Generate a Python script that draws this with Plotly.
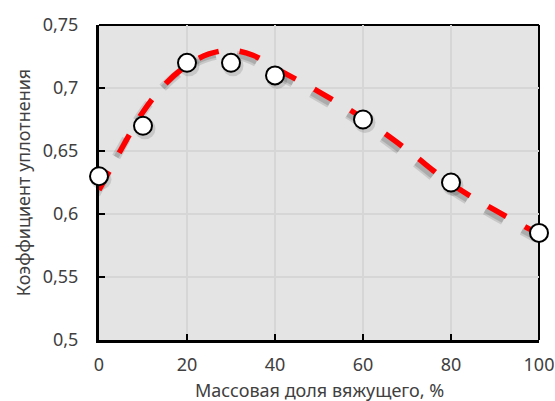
import plotly.graph_objects as go

# Measured points
x_pts = [0, 10, 20, 30, 40, 60, 80, 100]
y_pts = [0.63, 0.67, 0.72, 0.72, 0.71, 0.675, 0.625, 0.585]

# Trend curve
x_trend = [0, 5, 10, 15, 20, 25, 30, 35, 40, 50, 60, 70, 80, 90, 100]
y_trend = [0.619, 0.651, 0.681, 0.703, 0.718, 0.727, 0.730, 0.726, 0.716,
           0.697, 0.676, 0.651, 0.624, 0.603, 0.584]

# Axis ticks
x_ticks = [0, 20, 40, 60, 80, 100]
x_ticktext = ["0", "20", "40", "60", "80", "100"]
y_ticks = [0.5, 0.55, 0.6, 0.65, 0.7, 0.75]
y_ticktext = ["0,5", "0,55", "0,6", "0,65", "0,7", "0,75"]

x_title = "Массовая доля вяжущего, %"
y_title = "Коэффициент уплотнения"

FONT = "Noto Sans"
TXT = "#404040"
DASH = "21px,21px"

fig = go.Figure()

# invisible anchor trace on the base axes (keeps the base subplot alive)
fig.add_trace(go.Scatter(x=x_pts, y=y_pts, mode="markers",
                         marker=dict(size=1, opacity=0),
                         hoverinfo="skip", showlegend=False))

# shadow of trend line (on offset axes)
fig.add_trace(go.Scatter(x=x_trend, y=y_trend, mode="lines", xaxis="x2", yaxis="y2",
                         line=dict(color="rgba(0,0,0,0.12)", width=9, dash=DASH, shape="spline"),
                         hoverinfo="skip", showlegend=False))
fig.add_trace(go.Scatter(x=x_trend, y=y_trend, mode="lines", xaxis="x2", yaxis="y2",
                         line=dict(color="rgba(0,0,0,0.14)", width=5, dash=DASH, shape="spline"),
                         hoverinfo="skip", showlegend=False))
# shadow of markers
fig.add_trace(go.Scatter(x=x_pts, y=y_pts, mode="markers", xaxis="x3", yaxis="y3",
                         marker=dict(size=21, color="rgba(0,0,0,0.12)", line=dict(width=0)),
                         cliponaxis=False, hoverinfo="skip", showlegend=False))

# trend line (top overlay)
fig.add_trace(go.Scatter(x=x_trend, y=y_trend, mode="lines", xaxis="x4", yaxis="y4",
                         line=dict(color="#ff0000", width=5.5, dash=DASH, shape="spline"),
                         showlegend=False))
# points
fig.add_trace(go.Scatter(x=x_pts, y=y_pts, mode="markers", xaxis="x4", yaxis="y4",
                         marker=dict(size=18, color="white", line=dict(color="black", width=2)),
                         cliponaxis=False, showlegend=False))

xr = [0, 100]
yr = [0.5, 0.75]
px_per_x = 440 / 100.0
px_per_y = 315 / 0.25

def shift_x(dx_px):
    return [xr[0] - dx_px / px_per_x, xr[1] - dx_px / px_per_x]

def shift_y(dy_px):
    # positive dy_px moves data down on screen
    return [yr[0] + dy_px / px_per_y, yr[1] + dy_px / px_per_y]

fig.update_layout(
    width=555, height=401,
    margin=dict(l=99, r=16, t=25, b=61, autoexpand=False),
    paper_bgcolor="white",
    plot_bgcolor="#e4e4e4",
    separators=", ",
    font=dict(family=FONT, color=TXT, size=18),
    xaxis=dict(range=xr, tickvals=x_ticks, ticktext=x_ticktext, automargin=False,
               showgrid=True, gridcolor="#d6d6d6", gridwidth=2,
               zeroline=False, showline=True, linecolor="black", linewidth=3,
               ticks="inside", ticklen=6, tickwidth=2, tickcolor="black",
               tickfont=dict(size=18, color=TXT, family=FONT),
               ticklabelstandoff=6,
               layer="below traces"),
    yaxis=dict(range=yr, tickvals=y_ticks, ticktext=y_ticktext, automargin=False,
               showgrid=True, gridcolor="#d6d6d6", gridwidth=2,
               zeroline=False, showline=True, linecolor="black", linewidth=3,
               ticks="inside", ticklen=6, tickwidth=2, tickcolor="black",
               tickfont=dict(size=18, color=TXT, family=FONT),
               ticklabelstandoff=14,
               title=dict(text=y_title, font=dict(size=18, color=TXT, family=FONT), standoff=8),
               layer="below traces"),
    xaxis2=dict(overlaying="x", range=shift_x(-3), visible=False),
    yaxis2=dict(overlaying="y", range=shift_y(4), visible=False),
    xaxis3=dict(overlaying="x", range=shift_x(2), visible=False),
    yaxis3=dict(overlaying="y", range=shift_y(3), visible=False),
    xaxis4=dict(overlaying="x", range=xr, visible=False),
    yaxis4=dict(overlaying="y", range=yr, visible=False),
    annotations=[
        dict(text=x_title, xref="paper", yref="paper", x=0.5, y=0,
             xanchor="center", yanchor="middle", yshift=-50, showarrow=False,
             font=dict(size=18, color=TXT, family=FONT)),
    ],
    shapes=[
        dict(type="line", xref="paper", yref="paper", x0=0, x1=1, y0=1, y1=1,
             line=dict(color="black", width=2), layer="below"),
        dict(type="line", xref="paper", yref="paper", x0=1, x1=1, y0=0, y1=1,
             line=dict(color="black", width=2), layer="below"),
    ],
)

fig.write_html("out.html")
